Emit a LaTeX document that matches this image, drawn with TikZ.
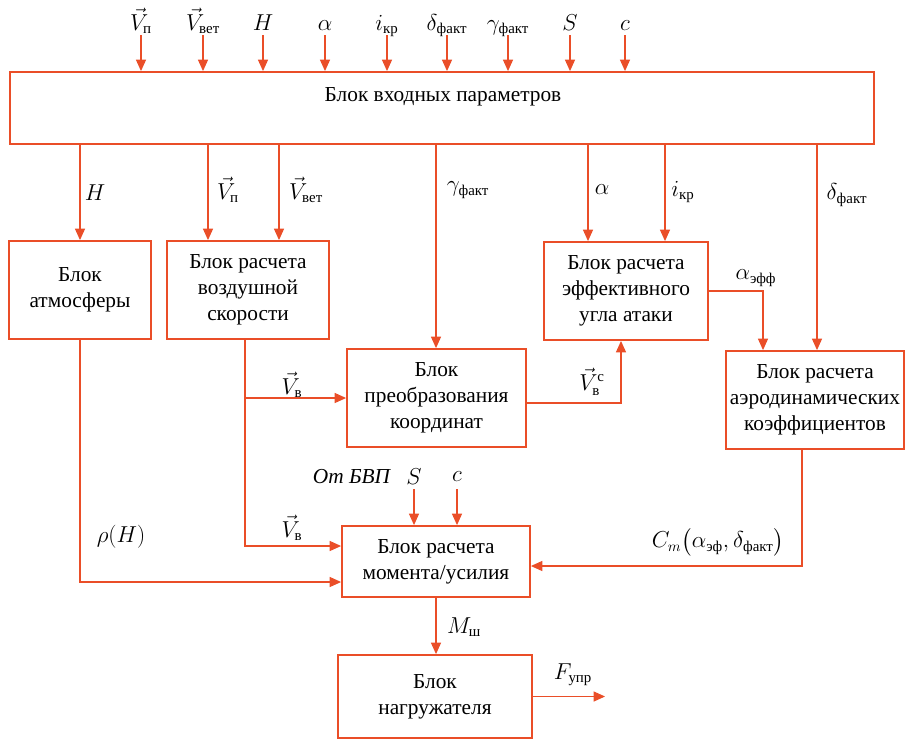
\documentclass[tikz,border=0pt]{standalone}
\usepackage{fontspec}
\setmainfont{Liberation Serif}
\usepackage{amsmath}
\usetikzlibrary{arrows.meta, calc}
\definecolor{rossa}{RGB}{234,78,40}

\begin{document}
\begin{tikzpicture}[
  x=0.75pt,
  y=-0.75pt,
  font=\fontsize{16}{19.5}\selectfont,
  blk/.style={draw=rossa, line width=1.4pt, align=center, inner sep=0pt, minimum height=73.5pt},
  arr/.style={draw=rossa, line width=0.8pt, -{Triangle[length=8.5pt,width=7.5pt]}},
  lin/.style={draw=rossa, line width=0.8pt}
  ]
\useasboundingbox (0,0) rectangle (907,740);

% blocks
\node[blk, minimum width=648pt, minimum height=54pt] (inp) at (442,108) {};
\node (inptxt) at (443,97) {Блок входных параметров};
\node[blk, minimum width=106.5pt] (atm) at (80,290) {Блок\\атмосферы};
\node[blk, minimum width=121.5pt] (vozd) at (248,290) {Блок расчета\\воздушной\\скорости};
\node[blk, minimum width=123pt] (eff) at (626,291) {Блок расчета\\эффективного\\угла атаки};
\node[blk, minimum width=134.25pt] (preob) at (436.5,398) {Блок\\преобразования\\координат};
\node[blk, minimum width=133.5pt] (aero) at (815,400) {Блок расчета\\аэродинамических\\коэффициентов};
\node[blk, minimum width=141pt, minimum height=53.25pt] (mom) at (436,561.5) {Блок расчета\\момента/усилия};
\node[blk, minimum width=145.5pt, minimum height=62.25pt] (nagr) at (435,696.5) {Блок\\нагружателя};

% inputs
\foreach \x/\t [count=\i] in {141/{\vec{V}_{\text{п}}}, 203/{\vec{V}_{\text{вет}}}, 263/H, 325/\alpha,
    387/{i_{\text{кр}}}, 447/{\delta_{\text{факт}}}, 508/{\gamma_{\text{факт}}}, 570/S, 625/c}{
  \coordinate (in\i) at (\x,35);
  \node[anchor=base, inner sep=0pt] (inlbl\i) at (\x,30) {$\t$};
  \draw[arr] (in\i) -- (in\i |- inp.north);
}

% outputs of the input block
\coordinate (xvp) at (208,0);
\coordinate (xvv) at (279,0);
\coordinate (xg) at (436,0);
\coordinate (xa) at (588,0);
\coordinate (xi) at (665,0);
\coordinate (xd) at (817,0);
\draw[arr] (inp.south -| atm.north) -- (atm.north);
\draw[arr] (inp.south -| xvp) -- (vozd.north -| xvp);
\draw[arr] (inp.south -| xvv) -- (vozd.north -| xvv);
\draw[arr] (inp.south -| xg) -- (preob.north -| xg);
\draw[arr] (inp.south -| xa) -- (eff.north -| xa);
\draw[arr] (inp.south -| xi) -- (eff.north -| xi);
\draw[arr] (inp.south -| xd) -- (aero.north -| xd);

\node (lh) at (95,193) {$H$};
\node (lvp) at (228,190) {$\vec{V}_{\text{п}}$};
\node (lvv) at (306,190) {$\vec{V}_{\text{вет}}$};
\node (lg) at (468,190) {$\gamma_{\text{факт}}$};
\node (la) at (602,190) {$\alpha$};
\node (li) at (683,192) {$i_{\text{кр}}$};
\node (ld) at (847,195) {$\delta_{\text{факт}}$};

% alpha eff
\coordinate (xae) at (763,0);
\draw[arr] (eff.east) -| (aero.north -| xae);
\node (lae) at (756,278) {$\alpha_{\text{эфф}}$};

% air speed
\coordinate (xvb) at (245,0);
\draw[arr] (vozd.south -| xvb) |- ($(mom.west)+(0,-15.5)$);
\draw[arr] (xvb |- preob.west) -- (preob.west);
\node (lvb1) at (292,385) {$\vec{V}_{\text{в}}$};
\node (lvb2) at (292,528) {$\vec{V}_{\text{в}}$};

% coordinates transform -> eff
\coordinate (xpe) at (621,0);
\draw[arr] ($(preob.east)+(0,5)$) -| (eff.south -| xpe);
\node (lvbc) at (592,382) {$\vec{V}_{\text{в}}^{\text{с}}$};

% atmosphere
\draw[arr] (atm.south) |- ($(mom.west)+(0,20.5)$);
\node (lrho) at (121,537) {$\rho(H)$};

% aero coefficients
\coordinate (xam) at (802,0);
\draw[arr] (aero.south -| xam) |- ($(mom.east)+(0,4.5)$);
\node (lcm) at (718,542) {$C_m\bigl(\alpha_{\text{эф}},\delta_{\text{факт}}\bigr)$};

% S, c
\coordinate (sin) at (414,489);
\coordinate (cin) at (457,489);
\draw[arr] (sin) -- (sin |- mom.north);
\draw[arr] (cin) -- (cin |- mom.north);
\node (lbvp) at (352,477) {\textit{От БВП}};
\node (ls) at (414,477) {$S$};
\node (lc) at (457,477) {$c$};

% moment -> loader
\draw[arr] (mom.south) -- (mom.south |- nagr.north);
\node (lm) at (464,627) {$M_{\text{ш}}$};
\coordinate (fout) at (605,697);
\draw[arr] (nagr.east) -- (nagr.east -| fout);
\node (lf) at (573,675) {$F_{\text{упр}}$};

\end{tikzpicture}
\end{document}
